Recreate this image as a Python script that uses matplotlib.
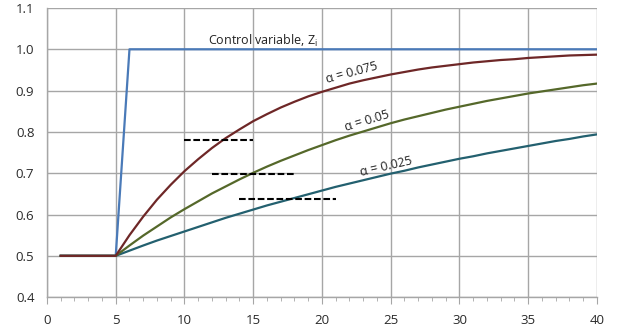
import matplotlib
matplotlib.use("Agg")
import matplotlib.pyplot as plt
from matplotlib.ticker import MultipleLocator

plt.rcParams['font.family'] = ['Open Sans', 'DejaVu Sans']
plt.rcParams['mathtext.default'] = 'regular'

# ---- data ----
t = list(range(1, 41))
control = [0.5] * 5 + [1.0] * 35
pre = [0.5] * 4
alpha_075 = pre + [0.500, 0.550, 0.595, 0.636, 0.672, 0.705, 0.734, 0.761, 0.785, 0.806,
                   0.826, 0.843, 0.859, 0.873, 0.886, 0.897, 0.907, 0.917, 0.925, 0.932,
                   0.939, 0.945, 0.951, 0.956, 0.960, 0.964, 0.968, 0.971, 0.974, 0.976,
                   0.979, 0.981, 0.983, 0.985, 0.986, 0.987]
alpha_05 = pre + [0.500, 0.525, 0.549, 0.571, 0.593, 0.613, 0.632, 0.651, 0.668, 0.685,
                  0.701, 0.716, 0.730, 0.743, 0.756, 0.768, 0.780, 0.791, 0.801, 0.811,
                  0.821, 0.830, 0.838, 0.846, 0.854, 0.861, 0.868, 0.875, 0.881, 0.887,
                  0.893, 0.898, 0.903, 0.908, 0.913, 0.917]
alpha_025 = pre + [0.500, 0.5125, 0.525, 0.537, 0.548, 0.559, 0.570, 0.581, 0.592, 0.602,
                   0.612, 0.622, 0.631, 0.640, 0.649, 0.658, 0.667, 0.675, 0.683, 0.691,
                   0.699, 0.706, 0.714, 0.721, 0.728, 0.735, 0.741, 0.748, 0.754, 0.760,
                   0.766, 0.772, 0.778, 0.783, 0.789, 0.794]
dash_y = [0.781, 0.697, 0.637]
dash_x0 = [10, 12, 14]
dash_x1 = [15, 18, 21]
x_ticks = [0, 5, 10, 15, 20, 25, 30, 35, 40]
y_ticks = [0.4, 0.5, 0.6, 0.7, 0.8, 0.9, 1.0, 1.1]

fig = plt.figure(figsize=(6.18, 3.32), dpi=100)
ax = fig.add_axes([0.076, 0.105, 0.890, 0.871])

grid_c = '#a6a6a6'
ax.set_xlim(0, 40)
ax.set_ylim(0.4, 1.1)
ax.set_xticks(x_ticks)
ax.set_yticks(y_ticks)
ax.set_yticklabels([f"{v:.1f}" for v in y_ticks])
ax.xaxis.set_minor_locator(MultipleLocator(1))
ax.grid(True, which='major', color=grid_c, lw=1.0)
ax.set_axisbelow(True)
for s in ['top', 'right']:
    ax.spines[s].set_visible(False)
for s in ['left', 'bottom']:
    ax.spines[s].set_color(grid_c)
    ax.spines[s].set_linewidth(1.0)
ax.tick_params(axis='x', which='major', length=5, color=grid_c, labelsize=9.5, labelcolor='#2a2a2a', pad=7)
ax.tick_params(axis='x', which='minor', length=3, color=grid_c)
ax.tick_params(axis='y', which='major', length=0, labelsize=9.5, labelcolor='#2a2a2a', pad=9)

lw = 1.6
ax.plot(t, control, color='#4a7ab8', lw=lw, zorder=3)
ax.plot(t, alpha_025, color='#23606f', lw=lw, zorder=3)
ax.plot(t, alpha_05, color='#55682a', lw=lw, zorder=3)
ax.plot(t, alpha_075, color='#6e2727', lw=lw, zorder=4)

for y, a, b in zip(dash_y, dash_x0, dash_x1):
    ax.plot([a, b], [y, y], color='black', lw=1.5, dashes=(3.2, 1.3), zorder=5)

ax.text(15.7, 1.020, 'Control variable, Z$_{i}$', ha='center', va='center', fontsize=9, color='#222222')
ax.text(22.2, 0.942, 'α = 0.075', ha='center', va='center', fontsize=9, rotation=15, color='#222222')
ax.text(23.3, 0.826, 'α = 0.05', ha='center', va='center', fontsize=9, rotation=17, color='#222222')
ax.text(24.65, 0.717, 'α = 0.025', ha='center', va='center', fontsize=9, rotation=13, color='#222222')

fig.savefig('out.png', dpi=100)
